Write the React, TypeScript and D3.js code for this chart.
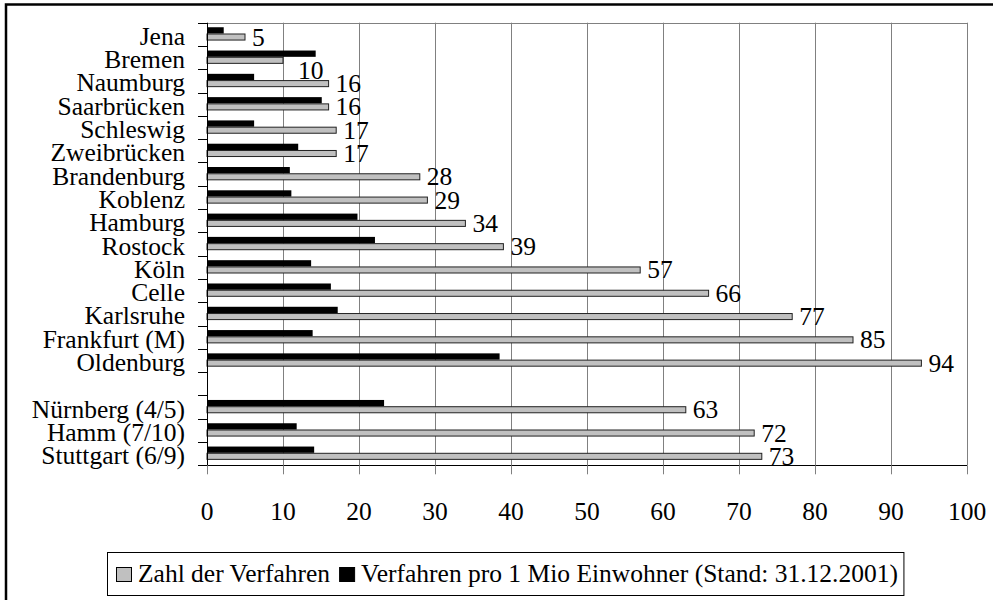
import React, { useEffect, useRef } from "react";
import * as d3 from "d3";

// Kategorien (leerer Eintrag = Lücke zwischen den Gruppen)
const cities = [
    "Jena", "Bremen", "Naumburg", "Saarbrücken", "Schleswig", "Zweibrücken",
    "Brandenburg", "Koblenz", "Hamburg", "Rostock", "Köln", "Celle",
    "Karlsruhe", "Frankfurt (M)", "Oldenburg", "",
    "Nürnberg (4/5)", "Hamm (7/10)", "Stuttgart (6/9)"
];

// Zahl der Verfahren
const zahlVerfahren: (number | null)[] = [
    5, 10, 16, 16, 17, 17, 28, 29, 34, 39, 57, 66, 77, 85, 94, null, 63, 72, 73
];

// Verfahren pro 1 Mio Einwohner
const proMio: (number | null)[] = [
    2.2, 14.3, 6.2, 15.1, 6.2, 12.0, 10.9, 11.1, 19.8, 22.1, 13.7, 16.3,
    17.2, 13.9, 38.5, null, 23.3, 11.8, 14.1
];

const xTicks = [0, 10, 20, 30, 40, 50, 60, 70, 80, 90, 100];

const legendLabels = [
    "Zahl der Verfahren",
    "Verfahren pro 1 Mio Einwohner (Stand: 31.12.2001)"
];

// Label, das Excel wegen Überlappung verschoben hat
const labelNudge: { [key: string]: [number, number] } = { Bremen: [8, 10] };

const FONT = "'Liberation Serif', 'Times New Roman', serif";
const GRAY = "#c0c0c0";

const App: React.FC = () => {
    const svgRef = useRef<SVGSVGElement | null>(null);

    useEffect(() => {
        document.body.style.margin = "0";
        if (!svgRef.current) return;

        const width = 993;
        const height = 600;
        const plot = { left: 207, right: 967, top: 22.7, bottom: 465.3 };

        const svg = d3.select(svgRef.current);
        svg.selectAll("*").remove();
        svg.attr("width", width).attr("height", height);

        svg.append("rect")
            .attr("width", width).attr("height", height).attr("fill", "#fff");

        // äußerer Rahmen
        svg.append("rect")
            .attr("x", 6).attr("y", 4.5)
            .attr("width", width + 20).attr("height", height + 20)
            .attr("fill", "none").attr("stroke", "#000").attr("stroke-width", 2.5);

        const x = d3.scaleLinear().domain([0, 100]).range([plot.left, plot.right]);
        const y = d3.scaleBand<string>().domain(cities).range([plot.top, plot.bottom]);
        const bw = y.bandwidth();

        // Gitterlinien
        svg.append("g")
            .selectAll("line")
            .data(xTicks.filter((t) => t > 0))
            .enter()
            .append("line")
            .attr("x1", (d) => Math.round(x(d)) + 0.5)
            .attr("x2", (d) => Math.round(x(d)) + 0.5)
            .attr("y1", plot.top)
            .attr("y2", plot.bottom)
            .attr("stroke", "#808080");

        // obere Begrenzung der Zeichnungsfläche
        svg.append("line")
            .attr("x1", plot.left).attr("x2", plot.right)
            .attr("y1", Math.round(plot.top) + 0.5).attr("y2", Math.round(plot.top) + 0.5)
            .attr("stroke", "#808080");

        // Balken: schwarz oben, grau darunter
        const rows = cities.map((c, i) => ({ c, a: zahlVerfahren[i], b: proMio[i] }))
            .filter((r) => r.a !== null);

        svg.append("g")
            .selectAll("rect")
            .data(rows)
            .enter()
            .append("rect")
            .attr("x", x(0))
            .attr("y", (d) => (y(d.c) as number) + bw * 0.195)
            .attr("width", (d) => x(d.b as number) - x(0))
            .attr("height", bw * 0.27)
            .attr("fill", "#000");

        svg.append("g")
            .selectAll("rect")
            .data(rows)
            .enter()
            .append("rect")
            .attr("x", x(0))
            .attr("y", (d) => (y(d.c) as number) + bw * 0.485)
            .attr("width", (d) => x(d.a as number) - x(0))
            .attr("height", bw * 0.26)
            .attr("fill", GRAY)
            .attr("stroke", "#222")
            .attr("stroke-width", 1);

        // Datenbeschriftungen
        svg.append("g")
            .selectAll("text")
            .data(rows)
            .enter()
            .append("text")
            .attr("x", (d) => x(d.a as number) + 7 + (labelNudge[d.c]?.[0] ?? 0))
            .attr("y", (d) => (y(d.c) as number) + bw * 0.615 + 8.5 + (labelNudge[d.c]?.[1] ?? 0))
            .attr("font-family", FONT)
            .attr("font-size", "25.5px")
            .attr("fill", "#000")
            .text((d) => String(d.a));

        // y-Achse
        svg.append("line")
            .attr("x1", plot.left + 0.5).attr("x2", plot.left + 0.5)
            .attr("y1", plot.top).attr("y2", plot.bottom)
            .attr("stroke", "#000");

        const bounds = cities.map((c) => y(c) as number).concat([plot.bottom]);
        svg.append("g")
            .selectAll("line")
            .data(bounds)
            .enter()
            .append("line")
            .attr("x1", plot.left - 9).attr("x2", plot.left)
            .attr("y1", (d) => Math.round(d) + 0.5)
            .attr("y2", (d) => Math.round(d) + 0.5)
            .attr("stroke", "#000");

        svg.append("g")
            .selectAll("text")
            .data(cities)
            .enter()
            .append("text")
            .attr("x", 185)
            .attr("y", (d) => (y(d) as number) + bw / 2 + 10.5)
            .attr("text-anchor", "end")
            .attr("font-family", FONT)
            .attr("font-size", "25.5px")
            .attr("fill", "#000")
            .text((d) => d);

        // x-Achse
        svg.append("line")
            .attr("x1", plot.left - 9).attr("x2", plot.right)
            .attr("y1", Math.round(plot.bottom) + 0.5).attr("y2", Math.round(plot.bottom) + 0.5)
            .attr("stroke", "#000");

        svg.append("g")
            .selectAll("line")
            .data(xTicks)
            .enter()
            .append("line")
            .attr("x1", (d) => Math.round(x(d)) + 0.5)
            .attr("x2", (d) => Math.round(x(d)) + 0.5)
            .attr("y1", plot.bottom)
            .attr("y2", plot.bottom + 9)
            .attr("stroke", "#808080");

        svg.append("g")
            .selectAll("text")
            .data(xTicks)
            .enter()
            .append("text")
            .attr("x", (d) => x(d))
            .attr("y", 520)
            .attr("text-anchor", "middle")
            .attr("font-family", FONT)
            .attr("font-size", "25.5px")
            .attr("fill", "#000")
            .text((d) => String(d));

        // Legende
        const legend = svg.append("g");
        const box = legend.append("rect")
            .attr("x", 107.5).attr("y", 552.5).attr("height", 43)
            .attr("fill", "#fff").attr("stroke", "#000");

        let cx = 116;
        legendLabels.forEach((label, i) => {
            legend.append("rect")
                .attr("x", cx + 0.5).attr("y", 567.5)
                .attr("width", 15).attr("height", 14)
                .attr("fill", i === 0 ? GRAY : "#000")
                .attr("stroke", "#000");
            const t = legend.append("text")
                .attr("x", cx + 22)
                .attr("y", 581.5)
                .attr("font-family", FONT)
                .attr("font-size", "25.5px")
                .attr("fill", "#000")
                .text(label);
            const w = (t.node() as SVGTextElement).getComputedTextLength();
            cx = cx + 22 + w + 9;
        });
        box.attr("width", cx - 3 - 107.5);
    }, []);

    return <svg ref={svgRef} style={{ display: "block" }}></svg>;
};

export default App;
